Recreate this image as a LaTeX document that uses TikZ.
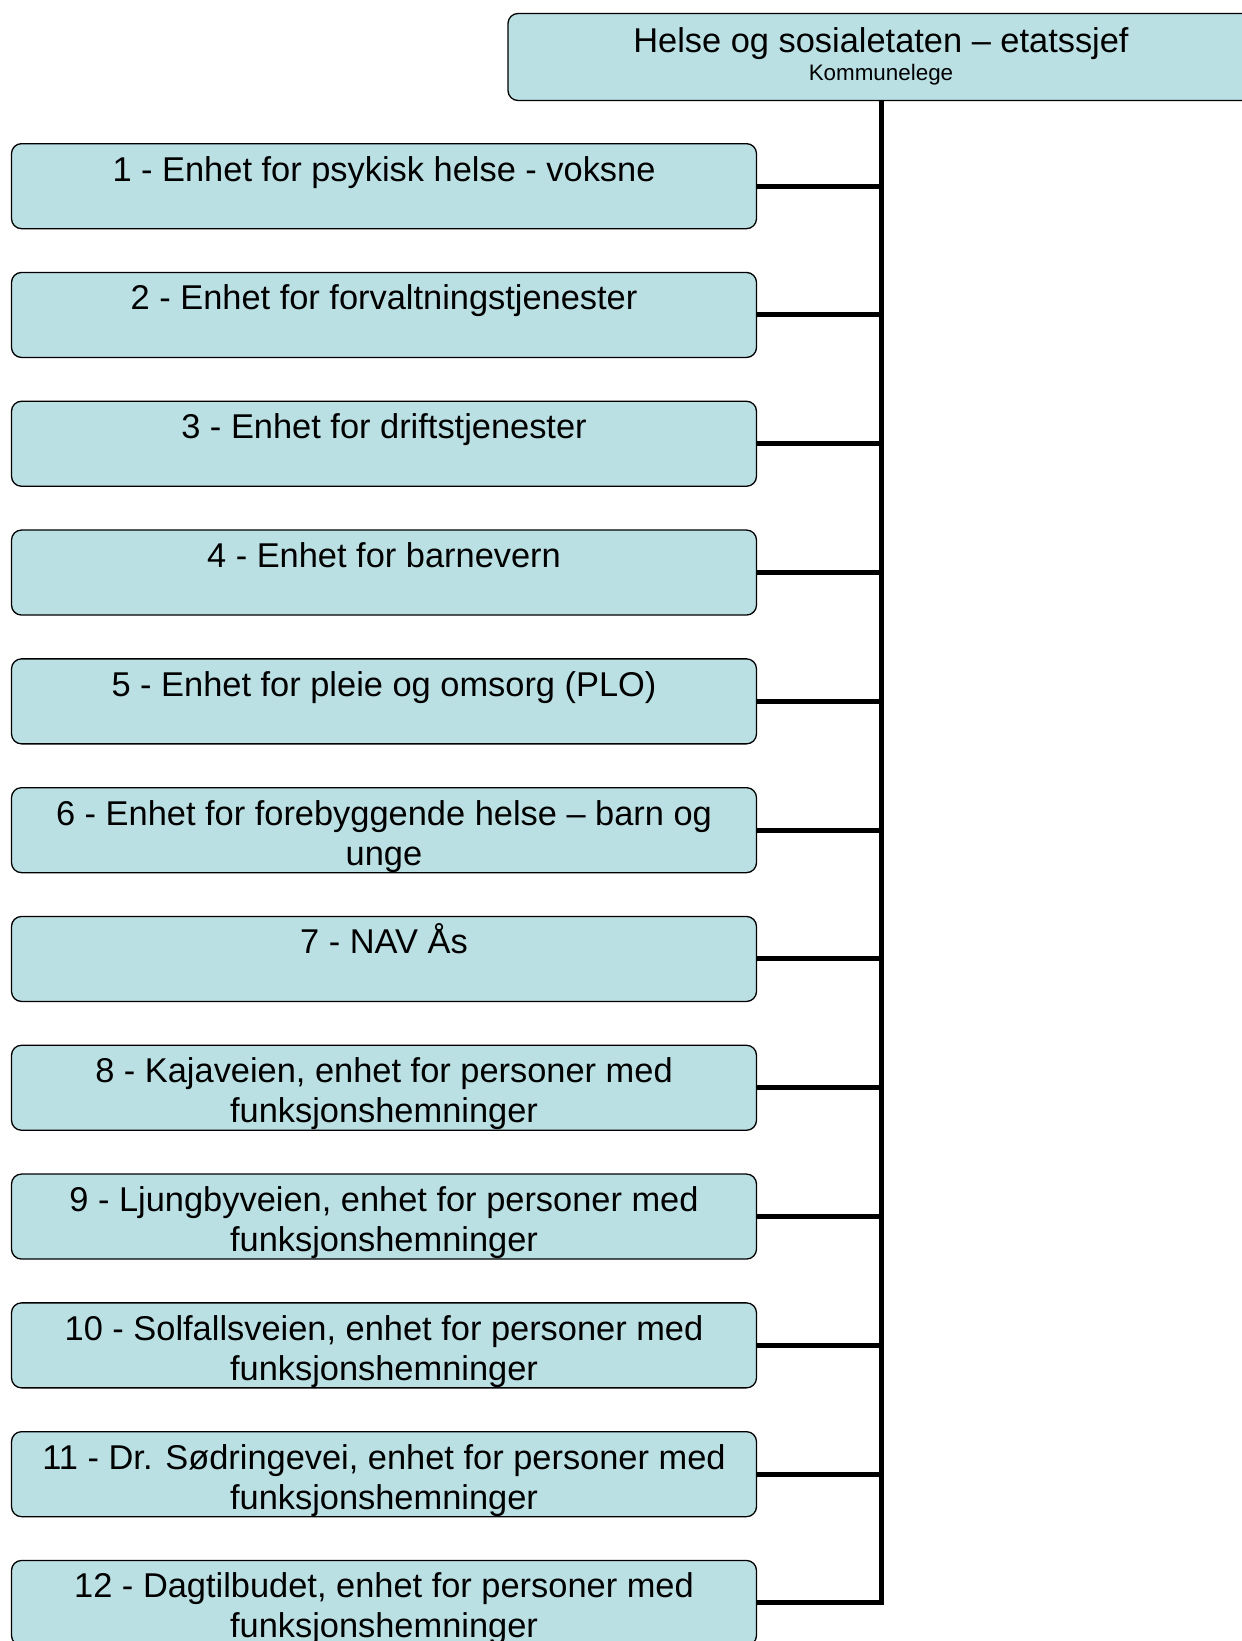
\documentclass[tikz,border=0pt]{standalone}
\usepackage{fontspec}
\setmainfont{Liberation Sans}
\usepackage{xcolor}
\usepackage{tikz}
\usetikzlibrary{positioning}
\definecolor{boksblaa}{RGB}{186,224,228}
\newcommand{\enhettekst}[1]{\parbox[c][85pt][t]{745pt}{\centering\fontsize{34.4}{40}\selectfont\rule{0pt}{37.5pt}#1\par}}

\begin{document}
\begin{tikzpicture}[x=1pt, y=-1pt,
    enhet/.style={draw=black, line width=1.3pt, fill=boksblaa, rounded corners=10pt, inner sep=0pt, anchor=north},
    linje/.style={line width=5pt, black}]
        \useasboundingbox (0,0) rectangle (1242,1641);
        % Etatssjef
        \node[enhet, anchor=center] (etat) at (881,57) {\parbox[c][87pt][t]{746pt}{\centering\fontsize{34.4}{40}\selectfont\rule{0pt}{38.5pt}Helse og sosialetaten -- etatssjef\par
            \fontsize{22.4}{28}\selectfont Kommunelege\par}};
        % Enheter
        \node[enhet] (e1) at (384,143) {\enhettekst{1 - Enhet for psykisk helse - voksne}};
        \node[enhet, below=42.5pt of e1] (e2) {\enhettekst{2 - Enhet for forvaltningstjenester}};
        \node[enhet, below=42.5pt of e2] (e3) {\enhettekst{3 - Enhet for driftstjenester}};
        \node[enhet, below=42.5pt of e3] (e4) {\enhettekst{4 - Enhet for barnevern}};
        \node[enhet, below=42.5pt of e4] (e5) {\enhettekst{5 - Enhet for pleie og omsorg (PLO)}};
        \node[enhet, below=42.5pt of e5] (e6) {\enhettekst{6 - Enhet for forebyggende helse -- barn og\\unge}};
        \node[enhet, below=42.5pt of e6] (e7) {\enhettekst{7 - NAV Ås}};
        \node[enhet, below=42.5pt of e7] (e8) {\enhettekst{8 - Kajaveien, enhet for personer med\\funksjonshemninger}};
        \node[enhet, below=42.5pt of e8] (e9) {\enhettekst{9 - Ljungbyveien, enhet for personer med\\funksjonshemninger}};
        \node[enhet, below=42.5pt of e9] (e10) {\enhettekst{10 - Solfallsveien, enhet for personer med\\funksjonshemninger}};
        \node[enhet, below=42.5pt of e10] (e11) {\enhettekst{11 - Dr. Sødringevei, enhet for personer med\\funksjonshemninger}};
        \node[enhet, below=42.5pt of e11] (e12) {\enhettekst{12 - Dagtilbudet, enhet for personer med\\funksjonshemninger}};
        % Linjer
        \draw[linje] (etat.south) -- (etat.south |- e12.east) -- (e12.east);
        \draw[linje] (e1.east) -- (e1.east -| etat.south);
        \draw[linje] (e2.east) -- (e2.east -| etat.south);
        \draw[linje] (e3.east) -- (e3.east -| etat.south);
        \draw[linje] (e4.east) -- (e4.east -| etat.south);
        \draw[linje] (e5.east) -- (e5.east -| etat.south);
        \draw[linje] (e6.east) -- (e6.east -| etat.south);
        \draw[linje] (e7.east) -- (e7.east -| etat.south);
        \draw[linje] (e8.east) -- (e8.east -| etat.south);
        \draw[linje] (e9.east) -- (e9.east -| etat.south);
        \draw[linje] (e10.east) -- (e10.east -| etat.south);
        \draw[linje] (e11.east) -- (e11.east -| etat.south);
    \end{tikzpicture}
\end{document}
